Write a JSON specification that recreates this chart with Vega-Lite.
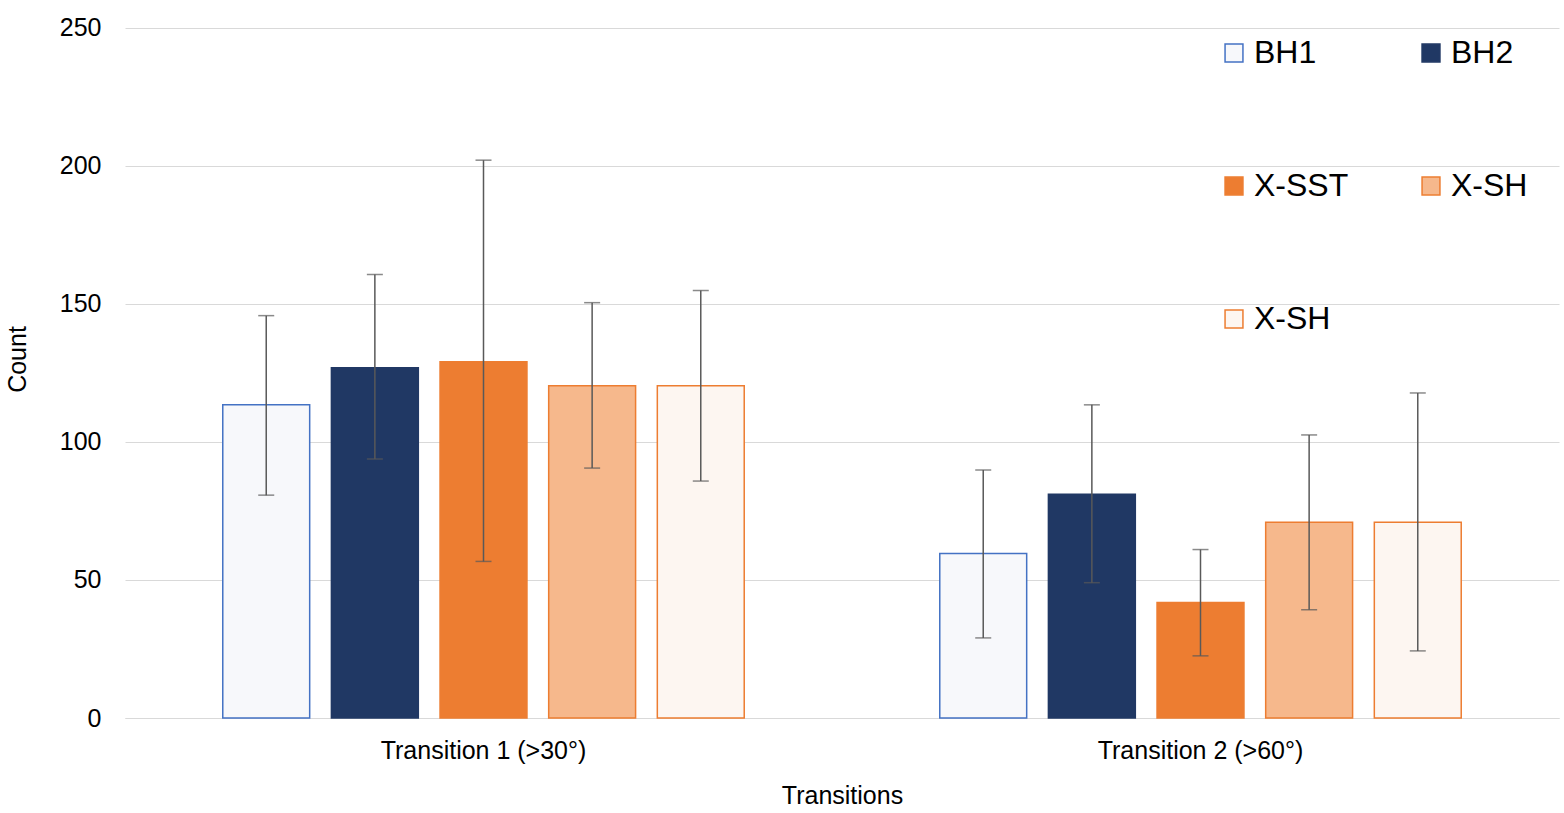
{
  "$schema": "https://vega.github.io/schema/vega-lite/v6.json",
  "autosize": {"type": "fit", "contains": "padding"},
  "width": 1564,
  "height": 813,
  "padding": {"top": 0, "left": 5, "right": 5, "bottom": 5},
  "data": {
    "values": [
      {"t": "Transition 1 (>30°)", "s": "BH1", "v": 113.4, "lo": 80.7, "hi": 145.7},
      {"t": "Transition 1 (>30°)", "s": "BH2", "v": 126.8, "lo": 93.8, "hi": 160.6},
      {"t": "Transition 1 (>30°)", "s": "X-SST", "v": 129, "lo": 56.7, "hi": 202},
      {"t": "Transition 1 (>30°)", "s": "X-SH", "v": 120.3, "lo": 90.5, "hi": 150.4},
      {"t": "Transition 1 (>30°)", "s": "X-SH ", "v": 120.3, "lo": 85.8, "hi": 154.8},
      {"t": "Transition 2 (>60°)", "s": "BH1", "v": 59.6, "lo": 29, "hi": 89.8},
      {"t": "Transition 2 (>60°)", "s": "BH2", "v": 81, "lo": 49, "hi": 113.4},
      {"t": "Transition 2 (>60°)", "s": "X-SST", "v": 41.8, "lo": 22.5, "hi": 61},
      {"t": "Transition 2 (>60°)", "s": "X-SH", "v": 70.9, "lo": 39.2, "hi": 102.5},
      {"t": "Transition 2 (>60°)", "s": "X-SH ", "v": 70.9, "lo": 24.3, "hi": 117.7}
    ]
  },
  "encoding": {
    "x": {"field": "t", "type": "nominal", "title": "Transitions",
      "scale": {"paddingInner": 0, "paddingOuter": 0},
      "axis": {"labelAngle": 0, "ticks": false, "domainColor": "#d9d9d9", "labelPadding": 20, "titlePadding": 20, "labelLimit": 0}},
    "xOffset": {"field": "s", "type": "nominal", "sort": ["BH1", "BH2", "X-SST", "X-SH", "X-SH "],
      "scale": {"paddingInner": 0.2, "paddingOuter": 0.9}}
  },
  "layer": [
    {
      "mark": {"type": "bar", "strokeWidth": 1.5},
      "encoding": {
        "y": {"field": "v", "type": "quantitative", "title": "Count",
          "scale": {"domain": [0, 250]},
          "axis": {"values": [0, 50, 100, 150, 200, 250], "labelOverlap": false, "gridColor": "#d9d9d9", "domain": false, "ticks": false, "labelPadding": 24, "titlePadding": 29}},
        "fill": {"field": "s", "type": "nominal",
          "scale": {"domain": ["BH1", "X-SST", "X-SH ", "BH2", "X-SH"], "range": ["#f7f8fb", "#ed7d31", "#fdf6f1", "#203864", "#f6b88c"]},
          "legend": {"orient": "none", "legendX": 1093, "legendY": 37, "columns": 2, "title": null,
            "symbolType": "square", "symbolSize": 320, "labelFontSize": 32, "rowPadding": 101, "columnPadding": 66, "symbolStrokeWidth": 1.5}},
        "stroke": {"field": "s", "type": "nominal",
          "scale": {"domain": ["BH1", "X-SST", "X-SH ", "BH2", "X-SH"], "range": ["#4472c4", "#ed7d31", "#ed7d31", "#203864", "#ed7d31"]},
          "legend": null}
      }
    },
    {
      "mark": {"type": "rule", "color": "#595959", "strokeWidth": 1.5},
      "encoding": {"y": {"field": "lo", "type": "quantitative"}, "y2": {"field": "hi"}}
    },
    {
      "mark": {"type": "tick", "color": "#595959", "size": 16, "thickness": 1.5, "orient": "horizontal"},
      "encoding": {"y": {"field": "lo", "type": "quantitative"}}
    },
    {
      "mark": {"type": "tick", "color": "#595959", "size": 16, "thickness": 1.5, "orient": "horizontal"},
      "encoding": {"y": {"field": "hi", "type": "quantitative"}}
    }
  ],
  "config": {
    "font": "Liberation Sans",
    "view": {"stroke": null},
    "axis": {"labelFontSize": 25, "titleFontSize": 25, "labelColor": "#000", "titleColor": "#000", "titleFontWeight": "normal", "labelFont": "Liberation Sans", "titleFont": "Liberation Sans"},
    "legend": {"labelFont": "Liberation Sans", "labelColor": "#000"}
  }
}
